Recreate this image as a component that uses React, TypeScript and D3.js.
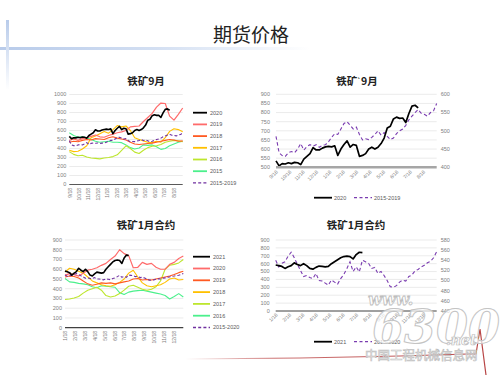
import React from "react";
import * as d3 from "d3";

// ---------- labels ----------
const months9 = ["9/18", "10/18", "11/18", "12/18", "1/18", "2/18", "3/18", "4/18", "5/18", "6/18", "7/18", "8/18"];
const months1 = ["1/18", "2/18", "3/18", "4/18", "5/18", "6/18", "7/18", "8/18", "9/18", "10/18", "11/18", "12/18"];

// ---------- iron ore Sep contract (weekly / bi-weekly values) ----------
const s9_2020 = [535, 508, 520, 518, 525, 520, 527, 525, 515, 545, 560, 575, 608, 595, 595, 605, 612, 615, 612, 618, 565, 600, 625, 645, 610, 625, 620, 560, 565, 575, 600, 610, 600, 610, 630, 660, 715, 725, 765, 775, 768, 770, 745, 795, 835, 840, 825];
const s9_2019 = [490, 505, 490, 510, 520, 535, 550, 530, 525, 545, 560, 575, 585, 600, 640, 645, 650, 700, 745, 790, 860, 905, 900, 760, 715, 780, 850];
const s9_2018 = [470, 480, 475, 490, 500, 495, 510, 505, 500, 520, 530, 515, 505, 495, 470, 450, 445, 450, 455, 460, 470, 480, 490, 500, 495, 480, 485];
const s9_2017 = [380, 365, 370, 395, 430, 520, 540, 565, 590, 570, 610, 655, 640, 650, 600, 520, 500, 485, 470, 465, 480, 470, 520, 590, 620, 610, 585];
const s9_2016 = [365, 335, 320, 325, 305, 295, 290, 285, 295, 300, 310, 330, 380, 430, 400, 360, 345, 380, 410, 425, 430, 445, 470, 480, 490, 485, 475];
const s9_2015 = [575, 545, 525, 530, 520, 500, 480, 470, 475, 480, 470, 470, 465, 440, 410, 395, 405, 440, 435, 440, 420, 390, 400, 430, 450, 470, 480];
const s9_avg = [485, 440, 432, 430, 440, 443, 440, 450, 465, 447, 457, 462, 458, 462, 455, 460, 462, 470, 482, 492, 490, 505, 520, 525, 515, 505, 510, 490, 475, 478, 476, 482, 490, 500, 488, 495, 485, 476, 480, 492, 500, 505, 515, 530, 540, 550, 558, 548, 545, 540, 550, 555, 575];

// ---------- iron ore Jan contract ----------
const s1_2021 = [583, 575, 565, 540, 560, 575, 610, 590, 575, 600, 575, 540, 530, 553, 570, 565, 560, 565, 600, 625, 650, 675, 690, 695, 690, 660, 715, 745, 740];
const s1_2020 = [540, 555, 545, 530, 560, 590, 600, 615, 640, 660, 700, 735, 800, 760, 740, 615, 620, 670, 650, 660, 620, 600, 600, 650, 670, 710, 735];
const s1_2019 = [520, 530, 525, 510, 480, 450, 435, 445, 460, 455, 460, 450, 460, 470, 480, 500, 505, 490, 495, 490, 500, 510, 520, 530, 545, 565, 580];
const s1_2018 = [570, 610, 600, 580, 560, 520, 480, 460, 440, 430, 425, 440, 465, 500, 560, 590, 520, 460, 430, 420, 430, 440, 465, 500, 510, 490, 495];
const s1_2017 = [290, 295, 305, 320, 355, 385, 400, 415, 385, 330, 315, 325, 350, 385, 425, 435, 415, 395, 385, 395, 420, 480, 600, 640, 650, 665, 700];
const s1_2016 = [505, 470, 465, 455, 450, 440, 420, 410, 430, 425, 420, 415, 360, 340, 365, 375, 380, 385, 375, 365, 355, 345, 330, 295, 320, 350, 315];
const s1_avg = [540, 527, 534, 537, 548, 556, 545, 532, 520, 508, 510, 506, 504, 514, 500, 499, 495, 491, 501, 497, 493, 504, 512, 524, 537, 518, 527, 517, 540, 537, 534, 524, 526, 514, 518, 510, 500, 488, 487, 490, 497, 501, 499, 508, 511, 519, 522, 527, 530, 535, 538, 545, 557];

const C = {
  black: "#000000",
  salmon: "#FF6B6B",
  orange: "#FF5A22",
  gold: "#FFC000",
  lime: "#BDE62E",
  green: "#4CF08C",
  purple: "#7030A0",
};
const NUM_FONT = "'Liberation Sans', Arial, sans-serif";
const CJK_FONT = "'Noto Sans CJK SC', sans-serif";

type Series = { label: string; data: number[]; step: number; color: string; width: number; dash?: string };

function Title(p: { x: number; y: number; text: string }) {
  const parts = p.text.split("`");
  return (
    <text x={p.x} y={p.y} textAnchor="middle" fontFamily={CJK_FONT} fontWeight="bold" fontSize={10.5} fill="#222">
      {parts.length > 1 ? (
        <>
          <tspan>{parts[0]}</tspan>
          <tspan fontSize={6} dy={-2}>`</tspan>
          <tspan dy={2}>{parts[1]}</tspan>
        </>
      ) : (
        p.text
      )}
    </text>
  );
}

function LeftPanel(p: {
  title: string; titleX: number; titleY: number;
  x0: number; x1: number; yB: number; yT: number; yMax: number; yStep: number;
  months: string[]; labelY: number; series: Series[]; legendOrder: Series[];
  legY0: number; legDy: number; legX0: number; legX1: number; axisColor: string;
}) {
  const x = d3.scaleLinear().domain([0, 52]).range([p.x0, p.x1]);
  const y = d3.scaleLinear().domain([0, p.yMax]).range([p.yB, p.yT]);
  const ticks = d3.range(0, p.yMax + 1, p.yStep);
  return (
    <g>
      <Title x={p.titleX} y={p.titleY} text={p.title} />
      {ticks.map((t) => (
        <g key={t}>
          {t > 0 && <line x1={p.x0} x2={p.x1} y1={y(t)} y2={y(t)} stroke="#E3E3E3" strokeWidth={0.7} />}
          <text x={p.x0 - 3} y={y(t)} dy="0.35em" textAnchor="end" fontFamily={NUM_FONT} fontSize={5.5} fill="#808080">{t}</text>
        </g>
      ))}
      {p.months.map((m, k) => {
        const mx = x((k * 52) / 12) + 0.5;
        return (
          <text key={m} transform={`translate(${mx},${p.labelY}) rotate(-90)`} textAnchor="end" dy="0.35em" fontFamily={NUM_FONT} fontSize={5} fill="#808080">{m}</text>
        );
      })}
      {p.series.map((s) => {
        const gen = d3.line<number>().x((_, i) => x(i * s.step)).y((d) => y(d));
        return <path key={s.label} d={gen(s.data) || ""} fill="none" stroke={s.color} strokeWidth={s.width} strokeDasharray={s.dash} strokeLinejoin="round" />;
      })}
      <line x1={p.x0} x2={p.x1} y1={p.yB} y2={p.yB} stroke={p.axisColor} strokeWidth={1.2} />
      {p.legendOrder.map((s, i) => {
        const ly = p.legY0 + i * p.legDy;
        return (
          <g key={s.label}>
            <line x1={p.legX0} x2={p.legX1} y1={ly} y2={ly} stroke={s.color} strokeWidth={s.dash ? 1.3 : 1.8} strokeDasharray={s.dash ? "3,2.2" : undefined} />
            <text x={p.legX1 + 3} y={ly} dy="0.35em" fontFamily={NUM_FONT} fontSize={5.5} fill="#595959">{s.label}</text>
          </g>
        );
      })}
    </g>
  );
}

function RightPanel(p: {
  title: string; titleX: number; titleY: number;
  x0: number; x1: number; yB: number; yT: number;
  left: [number, number]; leftStep: number; right: [number, number]; rightStep: number;
  months: string[]; labelY: number; main: Series; avg: Series; legY: number;
  axisColor: string; axisWidth: number;
}) {
  const x = d3.scaleLinear().domain([0, 52]).range([p.x0, p.x1]);
  const yl = d3.scaleLinear().domain(p.left).range([p.yB, p.yT]);
  const yr = d3.scaleLinear().domain(p.right).range([p.yB, p.yT]);
  const lt = d3.range(p.left[0], p.left[1] + 1, p.leftStep);
  const rt = d3.range(p.right[0], p.right[1] + 1, p.rightStep);
  const gm = d3.line<number>().x((_, i) => x(i * p.main.step)).y((d) => yl(d));
  const ga = d3.line<number>().x((_, i) => x(i * p.avg.step)).y((d) => yr(d));
  return (
    <g>
      <Title x={p.titleX} y={p.titleY} text={p.title} />
      {lt.map((t) => (
        <g key={"l" + t}>
          {t > p.left[0] && <line x1={p.x0} x2={p.x1} y1={yl(t)} y2={yl(t)} stroke="#E3E3E3" strokeWidth={0.7} />}
          <text x={p.x0 - 6} y={yl(t)} dy="0.35em" textAnchor="end" fontFamily={NUM_FONT} fontSize={5.5} fill="#808080">{t}</text>
        </g>
      ))}
      {rt.map((t) => (
        <text key={"r" + t} x={p.x1 + 4} y={yr(t)} dy="0.35em" fontFamily={NUM_FONT} fontSize={5.5} fill="#808080">{t}</text>
      ))}
      {p.months.map((m, k) => {
        const mx = x((k * 52) / 12) + 1;
        return (
          <text key={m} transform={`translate(${mx},${p.labelY}) rotate(-45)`} textAnchor="end" dy="0.35em" fontFamily={NUM_FONT} fontSize={5} fill="#808080">{m}</text>
        );
      })}
      <path d={ga(p.avg.data) || ""} fill="none" stroke={p.avg.color} strokeWidth={p.avg.width} strokeDasharray={p.avg.dash} />
      <path d={gm(p.main.data) || ""} fill="none" stroke={p.main.color} strokeWidth={p.main.width} strokeLinejoin="round" />
      <line x1={p.x0} x2={p.x1} y1={p.yB} y2={p.yB} stroke={p.axisColor} strokeWidth={p.axisWidth} />
      <line x1={314} x2={332} y1={p.legY} y2={p.legY} stroke={p.main.color} strokeWidth={1.8} />
      <text x={334} y={p.legY} dy="0.35em" fontFamily={NUM_FONT} fontSize={5.5} fill="#595959">{p.main.label}</text>
      <line x1={354} x2={372} y1={p.legY} y2={p.legY} stroke={p.avg.color} strokeWidth={1.2} strokeDasharray="3,2.5" />
      <text x={374} y={p.legY} dy="0.35em" fontFamily={NUM_FONT} fontSize={5.5} fill="#595959">{p.avg.label}</text>
    </g>
  );
}

export default function App() {
  const sep: Series[] = [
    { label: "2015", data: s9_2015, step: 2, color: C.green, width: 1.1 },
    { label: "2016", data: s9_2016, step: 2, color: C.lime, width: 1.1 },
    { label: "2017", data: s9_2017, step: 2, color: C.gold, width: 1.1 },
    { label: "2018", data: s9_2018, step: 2, color: C.orange, width: 1.1 },
    { label: "2019", data: s9_2019, step: 2, color: C.salmon, width: 1.2 },
    { label: "2015-2019", data: s9_avg, step: 1, color: C.purple, width: 1.1, dash: "3,2" },
    { label: "2020", data: s9_2020, step: 1, color: C.black, width: 1.6 },
  ];
  const jan: Series[] = [
    { label: "2016", data: s1_2016, step: 2, color: C.green, width: 1.1 },
    { label: "2017", data: s1_2017, step: 2, color: C.lime, width: 1.1 },
    { label: "2018", data: s1_2018, step: 2, color: C.gold, width: 1.1 },
    { label: "2019", data: s1_2019, step: 2, color: C.orange, width: 1.1 },
    { label: "2020", data: s1_2020, step: 2, color: C.salmon, width: 1.2 },
    { label: "2015-2020", data: s1_avg, step: 1, color: C.purple, width: 1.1, dash: "3,2" },
    { label: "2021", data: s1_2021, step: 1, color: C.black, width: 1.6 },
  ];
  const sepLegend = [sep[6], sep[4], sep[3], sep[2], sep[1], sep[0], sep[5]];
  const janLegend = [jan[6], jan[4], jan[3], jan[2], jan[1], jan[0], jan[5]];

  return (
    <svg width={500} height={375} viewBox="0 0 500 375" style={{ position: "absolute", left: 0, top: 0, background: "#fff" }}>
      <defs>
        <linearGradient id="hbar" x1="0" x2="1" y1="0" y2="0">
          <stop offset="0" stopColor="#B8CBEA" />
          <stop offset="0.5" stopColor="#D3DFF2" />
          <stop offset="1" stopColor="#FFFFFF" />
        </linearGradient>
        <linearGradient id="vbar" x1="0" x2="0" y1="0" y2="1">
          <stop offset="0" stopColor="#B8CBEA" />
          <stop offset="1" stopColor="#FFFFFF" />
        </linearGradient>
        <linearGradient id="ecg" x1="0" x2="1" y1="0" y2="0">
          <stop offset="0" stopColor="#C05050" stopOpacity="0" />
          <stop offset="0.3" stopColor="#C05050" stopOpacity="0.8" />
          <stop offset="1" stopColor="#B03030" stopOpacity="0.9" />
        </linearGradient>
      </defs>
      <rect x={0} y={0} width={500} height={375} fill="#fff" />
      <rect x={0} y={47} width={310} height={3} fill="url(#hbar)" />
      <rect x={6} y={20} width={3} height={70} fill="url(#vbar)" />
      <text x={251} y={42} textAnchor="middle" fontFamily={CJK_FONT} fontSize={19} fill="#222">期货价格</text>

      <LeftPanel title="铁矿9月" titleX={146} titleY={85} x0={69.3} x1={182.7} yB={184.5} yT={94.5} yMax={1000} yStep={100}
        months={months9} labelY={188} series={sep} legendOrder={sepLegend}
        legY0={112.7} legDy={11.7} legX0={193} legX1={207} axisColor="#595959" />

      <RightPanel title="铁矿`9月" titleX={357} titleY={85} x0={276} x1={436.7} yB={167.3} yT={94.3}
        left={[500, 900]} leftStep={50} right={[400, 600]} rightStep={50}
        months={months9} labelY={171}
        main={{ label: "2020", data: s9_2020, step: 1, color: C.black, width: 1.7 }}
        avg={{ label: "2015-2019", data: s9_avg, step: 1, color: "#7A3CB0", width: 1.1, dash: "3.5,2.5" }}
        legY={197.7} axisColor="#A6A6A6" axisWidth={2.4} />

      <LeftPanel title="铁矿1月合约" titleX={146} titleY={229} x0={65} x1={183.3} yB={327.7} yT={240} yMax={900} yStep={100}
        months={months1} labelY={331} series={jan} legendOrder={janLegend}
        legY0={256.7} legDy={11.8} legX0={193} legX1={210} axisColor="#404040" />

      <RightPanel title="铁矿1月合约" titleX={356} titleY={229} x0={275.7} x1={436.7} yB={311} yT={240}
        left={[0, 900]} leftStep={100} right={[440, 580]} rightStep={20}
        months={months1} labelY={314}
        main={{ label: "2021", data: s1_2021, step: 1, color: C.black, width: 1.7 }}
        avg={{ label: "2015-2020", data: s1_avg, step: 1, color: "#7A3CB0", width: 1.1, dash: "3.5,2.5" }}
        legY={341.7} axisColor="#404040" axisWidth={1} />

      {/* watermark */}
      <g>
        <path d="M185,359 L300,358 L400,356 L468,354 L476,354 L480,329 L486,375" fill="none" stroke="url(#ecg)" strokeWidth={1.2} />
        <text x={368} y={305} fontFamily="'DejaVu Serif', serif" fontStyle="italic" fontWeight="bold" fontSize={16} fill="#fff" fillOpacity={0.75} stroke="#BDBDBD" strokeWidth={0.8}>www.</text>
        <text x={372} y={343} fontFamily="'DejaVu Serif', serif" fontStyle="italic" fontWeight="bold" fontSize={46} fill="#fff" fillOpacity={0.7} stroke="#C4C4C4" strokeWidth={1}>6300</text>
        <text x={446} y={345} fontFamily="'DejaVu Serif', serif" fontStyle="italic" fontWeight="bold" fontSize={14} fill="#fff" fillOpacity={0.75} stroke="#BDBDBD" strokeWidth={0.7}>.net</text>
        <text x={365} y={360} fontFamily={CJK_FONT} fontSize={12.5} fill="#fff" fillOpacity={0.8} stroke="#BDBDBD" strokeWidth={0.6}>中国工程机械信息网</text>
      </g>
    </svg>
  );
}
